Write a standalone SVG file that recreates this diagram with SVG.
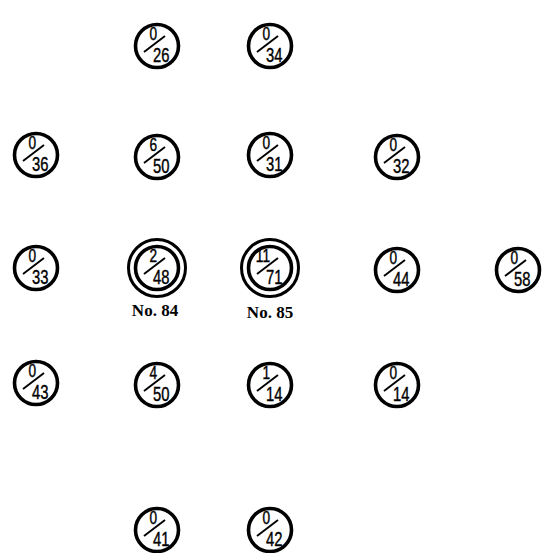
<svg xmlns="http://www.w3.org/2000/svg" width="551" height="553" viewBox="0 0 551 553">
<defs>
<style>
.c{fill:#fff;stroke:#000;stroke-width:3.6}
.c2{fill:none;stroke:#000;stroke-width:3}
.s{stroke:#000;stroke-width:2}
.n{font-family:"Liberation Sans","DejaVu Sans",sans-serif;font-size:18px;fill:#000;stroke:#000;stroke-width:0.4;text-anchor:end}
.d{font-family:"Liberation Sans","DejaVu Sans",sans-serif;font-size:20px;fill:#000;stroke:#000;stroke-width:0.4;text-anchor:start}
.lab{font-family:"Liberation Serif","Times New Roman",serif;font-size:17px;font-weight:bold;fill:#000;text-anchor:middle}
</style>
<g id="frac">
<line class="s" x1="-13" y1="6" x2="8" y2="-10"/>
</g>
</defs>
<rect width="551" height="553" fill="#fff"/>
<g id="n-26" transform="translate(157,46)"><circle class="c" r="21.5"/><use href="#frac"/><text class="n" transform="translate(0,-6) scale(0.76,1)">0</text><text class="d" transform="translate(-4,16) scale(0.74,1)">26</text></g>
<g id="n-34" transform="translate(270,46)"><circle class="c" r="21.5"/><use href="#frac"/><text class="n" transform="translate(0,-6) scale(0.76,1)">0</text><text class="d" transform="translate(-4,16) scale(0.74,1)">34</text></g>
<g id="n-36" transform="translate(36,155)"><circle class="c" r="21.5"/><use href="#frac"/><text class="n" transform="translate(0,-6) scale(0.76,1)">0</text><text class="d" transform="translate(-4,16) scale(0.74,1)">36</text></g>
<g id="n-6-50" transform="translate(157,157)"><circle class="c" r="21.5"/><use href="#frac"/><text class="n" transform="translate(0,-6) scale(0.76,1)">6</text><text class="d" transform="translate(-4,16) scale(0.74,1)">50</text></g>
<g id="n-31" transform="translate(270,155)"><circle class="c" r="21.5"/><use href="#frac"/><text class="n" transform="translate(0,-6) scale(0.76,1)">0</text><text class="d" transform="translate(-4,16) scale(0.74,1)">31</text></g>
<g id="n-32" transform="translate(397,157)"><circle class="c" r="21.5"/><use href="#frac"/><text class="n" transform="translate(0,-6) scale(0.76,1)">0</text><text class="d" transform="translate(-4,16) scale(0.74,1)">32</text></g>
<g id="n-33" transform="translate(36,268)"><circle class="c" r="21.5"/><use href="#frac"/><text class="n" transform="translate(0,-6) scale(0.76,1)">0</text><text class="d" transform="translate(-4,16) scale(0.74,1)">33</text></g>
<g id="n-84" transform="translate(157,268)"><circle class="c2" r="28.5"/><circle class="c" r="21.5"/><use href="#frac"/><text class="n" transform="translate(0,-6) scale(0.76,1)">2</text><text class="d" transform="translate(-4,16) scale(0.74,1)">48</text><text class="lab" x="-2" y="48">No. 84</text></g>
<g id="n-85" transform="translate(270,268)"><circle class="c2" r="28.5"/><circle class="c" r="21.5"/><use href="#frac"/><text class="n" transform="translate(0,-6) scale(0.76,1)">11</text><text class="d" transform="translate(-4,16) scale(0.74,1)">71</text><text class="lab" x="0" y="50">No. 85</text></g>
<g id="n-44" transform="translate(397,270)"><circle class="c" r="21.5"/><use href="#frac"/><text class="n" transform="translate(0,-6) scale(0.76,1)">0</text><text class="d" transform="translate(-4,16) scale(0.74,1)">44</text></g>
<g id="n-58" transform="translate(518,270)"><circle class="c" r="21.5"/><use href="#frac"/><text class="n" transform="translate(0,-6) scale(0.76,1)">0</text><text class="d" transform="translate(-4,16) scale(0.74,1)">58</text></g>
<g id="n-43" transform="translate(36,383)"><circle class="c" r="21.5"/><use href="#frac"/><text class="n" transform="translate(0,-6) scale(0.76,1)">0</text><text class="d" transform="translate(-4,16) scale(0.74,1)">43</text></g>
<g id="n-4-50" transform="translate(157,385)"><circle class="c" r="21.5"/><use href="#frac"/><text class="n" transform="translate(0,-6) scale(0.76,1)">4</text><text class="d" transform="translate(-4,16) scale(0.74,1)">50</text></g>
<g id="n-1-14" transform="translate(270,385)"><circle class="c" r="21.5"/><use href="#frac"/><text class="n" transform="translate(0,-6) scale(0.76,1)">1</text><text class="d" transform="translate(-4,16) scale(0.74,1)">14</text></g>
<g id="n-0-14" transform="translate(397,385)"><circle class="c" r="21.5"/><use href="#frac"/><text class="n" transform="translate(0,-6) scale(0.76,1)">0</text><text class="d" transform="translate(-4,16) scale(0.74,1)">14</text></g>
<g id="n-41" transform="translate(157,530)"><circle class="c" r="21.5"/><use href="#frac"/><text class="n" transform="translate(0,-6) scale(0.76,1)">0</text><text class="d" transform="translate(-4,16) scale(0.74,1)">41</text></g>
<g id="n-42" transform="translate(270,530)"><circle class="c" r="21.5"/><use href="#frac"/><text class="n" transform="translate(0,-6) scale(0.76,1)">0</text><text class="d" transform="translate(-4,16) scale(0.74,1)">42</text></g>
<g id="connectors"/>
</svg>
